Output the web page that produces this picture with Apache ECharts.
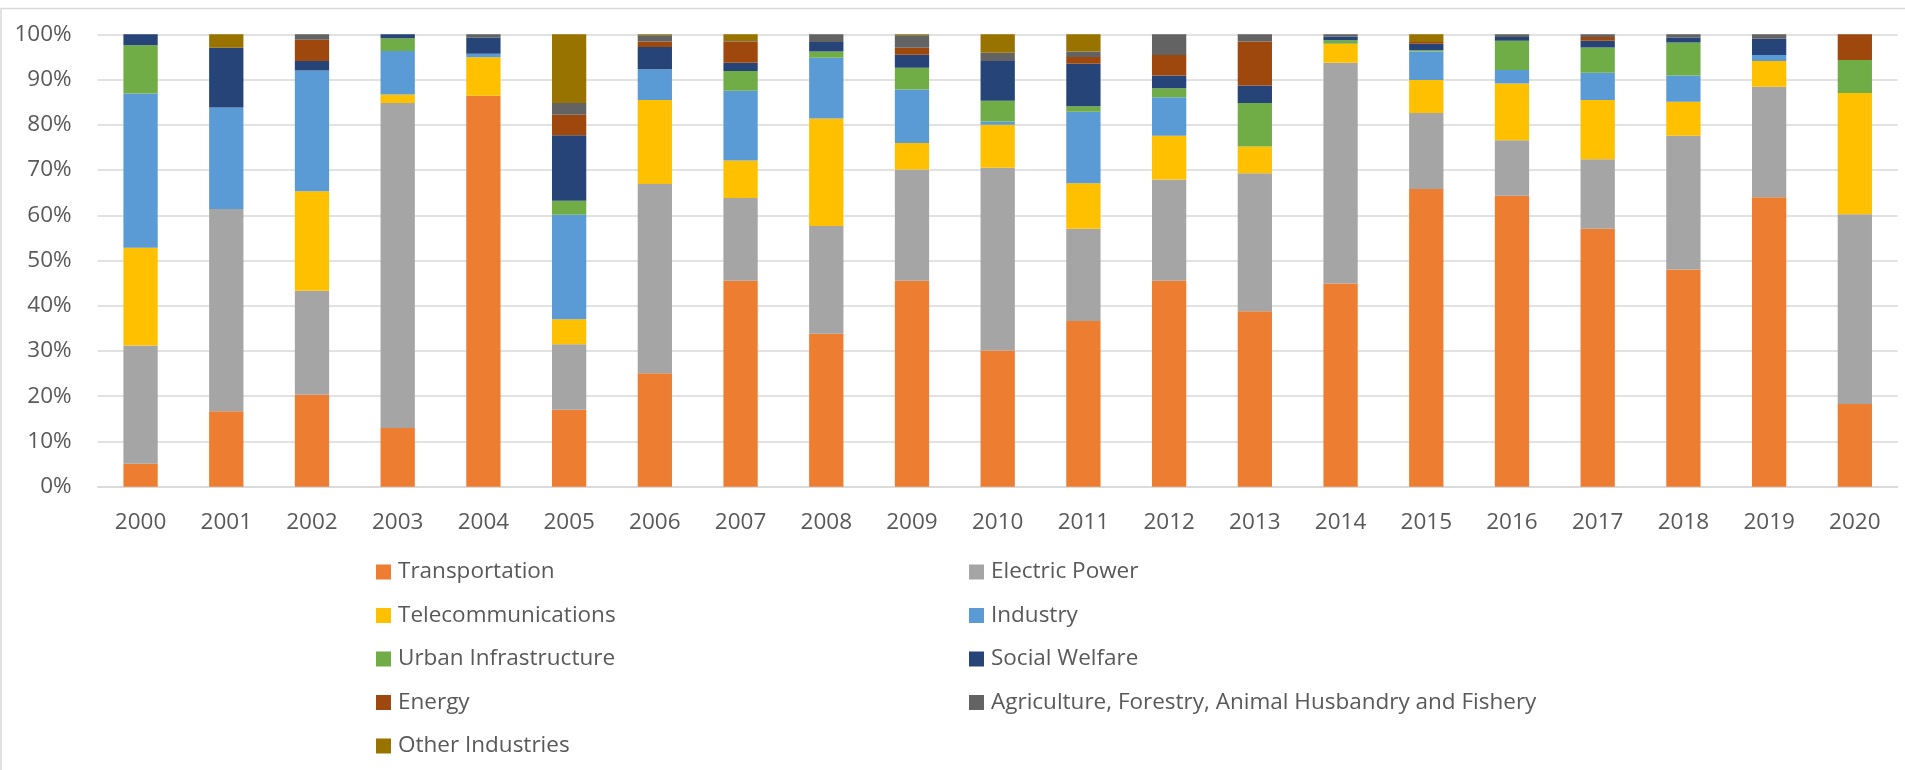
<!DOCTYPE html>
<html>
<head>
<meta charset="utf-8">
<title>Investment share by sector, 2000–2020</title>
<script src="https://cdn.jsdelivr.net/npm/echarts@6/dist/echarts.min.js"></script>
<style>
  html, body { margin: 0; padding: 0; background: #ffffff; }
  #chart { width: 1905px; height: 770px; }
</style>
</head>
<body>
<div id="chart"></div>
<script>
// Years on the category axis
const years = ['2000','2001','2002','2003','2004','2005','2006','2007','2008','2009','2010',
               '2011','2012','2013','2014','2015','2016','2017','2018','2019','2020'];

// Share of each sector per year (percent of the yearly total)
const transportation     = [5.1,16.7,20.3,13.0,86.4,17.0,25.1,45.5,33.8,45.5,30.1,36.6,45.5,38.8,44.9,65.8,64.3,57.0,48.0,64.0,18.3];
const electricPower      = [26.1,44.7,23.0,71.8,0,14.5,41.8,18.3,23.8,24.6,40.4,20.4,22.4,30.5,48.8,16.8,12.3,15.4,29.6,24.4,41.9];
const telecommunications = [21.6,0,22.0,1.9,8.5,5.5,18.6,8.3,23.8,5.9,9.5,10.1,9.7,5.9,4.2,7.3,12.5,13.1,7.5,5.7,26.8];
const industry           = [34.1,22.4,26.7,9.6,0.8,23.1,6.8,15.4,13.4,11.8,0.7,15.8,8.5,0,0,6.3,3.0,6.0,5.8,1.3,0];
const urbanInfra         = [10.7,0,0,2.8,0,3.1,0,4.4,1.4,4.8,4.6,1.2,2.0,9.6,0.8,0.3,6.5,5.6,7.3,0,7.3];
const socialWelfare      = [2.4,13.2,2.1,0.9,3.6,14.5,4.9,1.8,2.1,2.9,8.8,9.4,2.8,3.9,0.8,1.4,0.8,1.5,1.1,3.6,0];
const energy             = [0,0,4.7,0,0,4.5,1.2,4.7,0,1.5,0,1.5,4.5,9.7,0,0.4,0,0.8,0,0,5.7];
const agriculture        = [0,0,1.2,0,0.7,2.6,1.4,0.1,1.7,2.8,1.8,1.2,4.6,1.6,0.5,0,0.6,0.6,0.7,1.0,0];
const otherIndustries    = [0,3.0,0,0,0,15.2,0.2,1.5,0,0.2,4.1,3.8,0,0,0,1.7,0,0,0,0,0];

// Y axis ticks
const yTicks = [0,10,20,30,40,50,60,70,80,90,100];

const sectors = [
  { name: 'Transportation', data: transportation, color: '#ED7D31' },
  { name: 'Electric Power', data: electricPower, color: '#A5A5A5' },
  { name: 'Telecommunications', data: telecommunications, color: '#FFC000' },
  { name: 'Industry', data: industry, color: '#5B9BD5' },
  { name: 'Urban Infrastructure', data: urbanInfra, color: '#70AD47' },
  { name: 'Social Welfare', data: socialWelfare, color: '#264478' },
  { name: 'Energy', data: energy, color: '#9E480E' },
  { name: 'Agriculture, Forestry, Animal Husbandry and Fishery', data: agriculture, color: '#636363' },
  { name: 'Other Industries', data: otherIndustries, color: '#997300' }
];

const FONT = '"Open Sans", "Liberation Sans", sans-serif';
const TEXT_COLOR = '#595959';
const GRID_COLOR = '#D9D9D9';

const legendText = {
  fontFamily: FONT,
  fontSize: 22.5,
  color: TEXT_COLOR,
  lineHeight: 24,
  padding: [0, 0, 0, 2]
};

const chart = echarts.init(document.getElementById('chart'), null, { renderer: 'canvas' });

chart.setOption({
  animation: false,
  backgroundColor: '#ffffff',
  textStyle: { fontFamily: FONT },
  graphic: [{
    type: 'rect',
    z: -10,
    silent: true,
    shape: { x: 1, y: 8.5, width: 2000, height: 1000 },
    style: { fill: 'none', stroke: GRID_COLOR, lineWidth: 1.5 }
  }],
  grid: { left: 97.7, right: 7.3, top: 34.3, bottom: 283.3, containLabel: false },
  legend: [
    {
      orient: 'vertical',
      left: 376, top: 560,
      padding: 0,
      itemGap: 19.5,
      itemWidth: 15, itemHeight: 15,
      icon: 'rect',
      selectedMode: false,
      textStyle: legendText,
      data: ['Transportation', 'Telecommunications', 'Urban Infrastructure', 'Energy', 'Other Industries']
    },
    {
      orient: 'vertical',
      left: 969, top: 560,
      padding: 0,
      itemGap: 19.5,
      itemWidth: 15, itemHeight: 15,
      icon: 'rect',
      selectedMode: false,
      textStyle: legendText,
      data: ['Electric Power', 'Industry', 'Social Welfare', 'Agriculture, Forestry, Animal Husbandry and Fishery']
    }
  ],
  xAxis: {
    type: 'category',
    data: years,
    axisLine: { show: true, lineStyle: { color: GRID_COLOR, width: 1.5 } },
    axisTick: { show: false },
    axisLabel: {
      margin: 24,
      fontFamily: FONT,
      fontSize: 22.5,
      lineHeight: 24,
      color: TEXT_COLOR
    }
  },
  yAxis: {
    type: 'value',
    min: yTicks[0],
    max: yTicks[yTicks.length - 1],
    interval: yTicks[1] - yTicks[0],
    axisLine: { show: false },
    axisTick: { show: false },
    splitLine: { show: true, lineStyle: { color: GRID_COLOR, width: 1.5 } },
    axisLabel: {
      margin: 26,
      fontFamily: FONT,
      fontSize: 22.5,
      color: TEXT_COLOR,
      formatter: '{value}%'
    }
  },
  series: sectors.map(s => ({
    name: s.name,
    type: 'bar',
    stack: 'share',
    barWidth: '40%',
    data: s.data,
    itemStyle: { color: s.color },
    emphasis: { disabled: true }
  }))
});
</script>
</body>
</html>
